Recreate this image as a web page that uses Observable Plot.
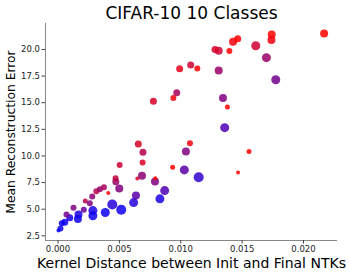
<!DOCTYPE html>
<html>
<head>
<meta charset="utf-8">
<script src="https://cdn.jsdelivr.net/npm/d3@7"></script>
<script src="https://cdn.jsdelivr.net/npm/@observablehq/plot@0.6"></script>
<style>
  html, body { margin: 0; padding: 0; background: #fff; }
  #chart svg { display: block; }
</style>
</head>
<body>
<div id="chart"></div>
<script>
const titleText = "CIFAR-10 10 Classes";
const xLabel = "Kernel Distance between Init and Final NTKs";
const yLabel = "Mean Reconstruction Error";
const xTicks = [0, 0.005, 0.010, 0.015, 0.020];
const yTicks = [2.5, 5.0, 7.5, 10.0, 12.5, 15.0, 17.5, 20.0];

const kernelDist = [
  0.02168, 0.01741, 0.01739, 0.01611, 0.01464, 0.01426, 0.01279, 0.01309, 0.01396, 0.01698,
  0.01081, 0.00991, 0.01135, 0.01309, 0.01774, 0.00967, 0.00940, 0.00777, 0.01344, 0.01380,
  0.01358, 0.00654, 0.01075, 0.00692, 0.01042, 0.01556, 0.00502, 0.00689, 0.00934, 0.01029,
  0.01146, 0.01467, 0.00684, 0.00646, 0.00793, 0.00790, 0.00469, 0.00471, 0.00499, 0.00869,
  0.00830, 0.00635, 0.00616, 0.00442, 0.00515, 0.00385, 0.00284, 0.00284, 0.00167, 0.00162,
  0.00096, 0.00055, 0.00031, 0.00020, 0.00004, 0.00069, 0.00126, 0.00210, 0.00222, 0.00259,
  0.00279, 0.00312, 0.00341, 0.00374, 0.00409
];
const reconError = [
  21.51, 21.41, 20.89, 20.35, 21.01, 20.73, 20.00, 19.88, 19.85, 19.23,
  18.54, 18.19, 18.22, 18.03, 17.16, 15.94, 15.45, 15.13, 15.45, 14.60,
  12.66, 11.13, 11.19, 10.34, 10.41, 10.41, 9.16, 9.38, 8.94, 8.69,
  8.00, 8.44, 8.13, 7.88, 7.90, 7.59, 7.90, 7.57, 6.94, 6.75,
  5.97, 6.28, 5.62, 5.44, 4.94, 4.69, 4.87, 4.38, 4.50, 4.09,
  4.19, 3.78, 3.68, 3.18, 3.00, 4.50, 5.13, 4.94, 5.78, 5.56,
  6.19, 6.68, 6.87, 7.06, 6.53
];
// colour parameter (0 = blue, 1 = red)
const colorParam = [
  1.00, 1.00, 0.95, 0.80, 1.00, 0.95, 0.85, 0.80, 1.00, 0.60,
  0.80, 0.90, 1.00, 0.60, 0.45, 0.65, 0.95, 0.85, 0.50, 1.00,
  0.30, 0.85, 0.95, 0.70, 0.50, 1.00, 0.80, 0.85, 1.00, 0.35,
  0.20, 1.00, 0.55, 0.85, 1.00, 0.50, 0.75, 0.60, 0.50, 0.30,
  0.10, 0.35, 0.15, 0.15, 0.05, 0.05, 0.10, 0.05, 0.10, 0.05,
  0.10, 0.05, 0.05, 0.05, 0.00, 0.45, 0.50, 0.40, 0.70, 0.50,
  0.55, 0.70, 0.60, 0.65, 1.00
];
// size parameter
const sizeParam = [
  3.0, 3.0, 3.0, 3.5, 2.5, 3.0, 2.5, 3.0, 2.0, 3.5,
  2.5, 2.5, 2.0, 3.0, 3.5, 2.5, 2.0, 2.5, 3.0, 1.5,
  3.5, 2.5, 2.0, 2.5, 3.0, 1.5, 2.0, 2.0, 1.5, 3.5,
  4.0, 1.0, 3.0, 1.0, 1.0, 3.0, 2.0, 2.5, 3.0, 3.5,
  3.5, 3.0, 3.5, 4.0, 4.0, 3.5, 3.5, 3.5, 3.0, 3.0,
  2.5, 2.5, 2.0, 2.0, 1.0, 2.0, 2.0, 2.0, 1.5, 2.0,
  2.0, 2.0, 2.0, 2.0, 1.0
];

const points = kernelDist.map((x, i) => ({
  x, y: reconError[i], c: colorParam[i], s: sizeParam[i]
}));

const xDomain = [-0.00102, 0.02277];
const yDomain = [2.06, 22.44];

const chart = Plot.plot({
  width: 350,
  height: 277,
  marginLeft: 45,
  marginRight: 13,
  marginTop: 23,
  marginBottom: 37,
  style: { fontFamily: "DejaVu Sans", background: "#fff", color: "#222" },
  x: { domain: xDomain, ticks: xTicks, tickFormat: d3.format(".3f") },
  y: { domain: yDomain, ticks: yTicks, tickFormat: d3.format(".1f") },
  color: { type: "linear", domain: [0, 1], range: ["#0000ff", "#ff0000"], interpolate: "rgb" },
  r: { type: "linear", domain: [1, 4], range: [2, 5] },
  marks: [
    Plot.ruleX([xDomain[0]], { stroke: "#888", strokeWidth: 1 }),
    Plot.ruleY([yDomain[0]], { stroke: "#888", strokeWidth: 1 }),
    Plot.axisX({ ticks: xTicks, tickFormat: d3.format(".3f"), tickSize: 3.5, tickPadding: 2, fontSize: 8.5, label: null, stroke: "#444" }),
    Plot.axisY({ ticks: yTicks, tickFormat: d3.format(".1f"), tickSize: 3.5, tickPadding: 2, fontSize: 8.5, label: null, stroke: "#444" }),
    Plot.dot(points, { x: "x", y: "y", r: "s", fill: "c", fillOpacity: 0.85 }),
    Plot.text([titleText], { frameAnchor: "top", dy: -10, lineAnchor: "middle", fontSize: 17, fill: "#000" }),
    Plot.text([xLabel], { frameAnchor: "bottom", dy: 23, lineAnchor: "middle", fontSize: 14, fill: "#000" }),
    Plot.text([yLabel], { frameAnchor: "left", dx: -34, rotate: -90, textAnchor: "middle", lineAnchor: "middle", fontSize: 12.3, fill: "#000" })
  ]
});

document.getElementById("chart").appendChild(chart);
</script>
</body>
</html>
